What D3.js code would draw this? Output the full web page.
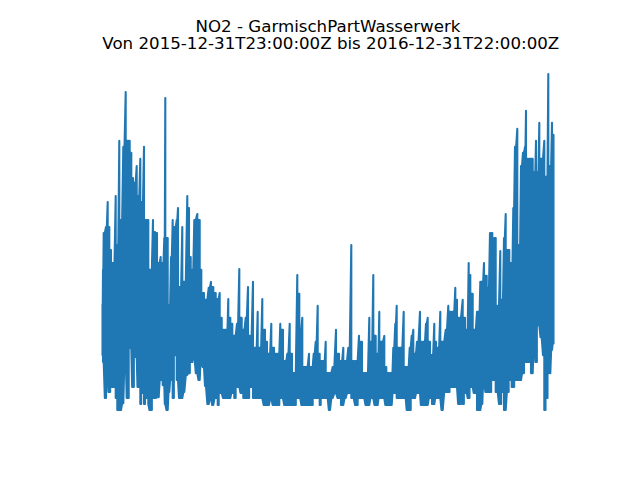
<!DOCTYPE html>
<html><head><meta charset="utf-8">
<script src="https://cdn.jsdelivr.net/npm/d3@7"></script>
<style>html,body{margin:0;padding:0;background:#fff}svg{display:block}</style>
</head><body><svg id="c" width="640" height="480"></svg>
<script>
const titleLines = ["NO2 - GarmischPartWasserwerk", "Von 2015-12-31T23:00:00Z bis 2016-12-31T22:00:00Z"];
const startTime = "2015-12-31T23:00:00Z", endTime = "2016-12-31T22:00:00Z";
const peakSlots = [0,0.5,1.2,3.5,5.2,6.8,8.5,10.8,13.2,14.8,16.8,18.5,20.8,23.2,25.2,27.2,28.8,30.5,32.2,34.2,35.8,37.8,39.5,41.5,43.5,45.8,48.2,50.5,52.5,54.5,56.2,58.2,60.2,61.8,62.8,65.2,66.8,68.5,70.2,72.5,74.2,75.5,77.5,79.8,81.8,84.8,86.5,88.2,89.8,91.8,94.8,97.2,98.8,101.5,103.5,106.2,108.5,110.8,113.2,115.2,117.2,119.2,121.8,124.2,125.8,127.8,129.8,131.8,134.5,136.8,139.2,140.8,143.2,145.5,147.8,150.5,153.2,155.2,157.5,159.8,162.5,164.5,166.5,168.8,171.5,173.5,175.8,177.8,180.5,182.8,184.8,187.2,189.5,191.8,194.8,196.8,197.8,199.8,201.8,203.8,206.5,209.2,211.2,213.2,215.2,217.2,219.2,221.2,223.2,225.2,227.5,230.2,233.5,236.5,238.5,240.8,243.2,245.8,248.8,251.2,253.8,256.5,259.5,261.8,264.2,266.8,268.8,270.8,273.2,275.2,276.8,279.2,281.8,283.8,286.5,289.2,290.8,292.8,294.2,296.5,298.5,301.2,303.2,305.2,307.2,309.2,310.8,312.5,314.5,317.5,319.2,321.5,323.5,325.2,327.5,329.5,331.8,333.5,335.5,337.8,340.2,343.2,345.8,348.2,350.8,352.8,354.5,356.8,360.2,362.5,364.2,366.2,367.8,370.2,372.2,374.5,376.5,377.8,379.8,381.5,384.2,385.5,387.5,389.8,390.8,393.2,395.2,397.8,399.5,401.5,403.2,405.5,406.8,409.2,410.8,412.5,414.8,416.8,418.5,420.5,422.5,423.5,425.5,428.5,430.2,432.2,433.5,435.2,436.8,439.2,441.8,444.2,445.8,447.8,449.5,451];
const peakValues = [35,46.7,59,61,69.3,61,53.3,49,71.3,55,89.7,63.3,87.7,106,89.7,89.7,85.7,77.3,75.7,81.3,71.3,83.7,69.3,87.7,63.3,63.3,46.7,63.3,59.3,59,49,51,49,57.3,104,57.3,35,51,63.3,61,63.3,67.3,41,61,42.7,71.3,67.3,51,46.7,63.3,65.3,63.3,46.7,39,36.7,40.7,42.7,41,39,37,39,30.7,26.7,26.7,37,30.7,28.7,24.7,28.7,47,30.7,26.7,30.7,41,24.7,42.7,20.7,32.7,20.7,37,26.7,22.7,18.7,28.7,20.7,18.7,18.7,28.7,26.7,16.3,18.7,28.7,18.7,12.3,45,38.7,26.7,30.7,14.3,14.3,18.7,14.3,18.7,22.7,34.7,18.7,16.3,16.3,22.7,12.3,12.3,14.3,26.7,18.7,16.3,20.7,16.3,20.7,55,16.3,16.3,24.7,22.7,12.3,12.3,30.7,22.7,45,24.7,18.7,32.7,22.7,24.7,14.3,12.3,12.3,20.7,28.7,34.7,20.7,20.7,32.7,14.3,14.3,20.7,24.7,26.7,18.7,22.7,32.7,22.7,22.7,28.7,30.7,22.7,18.3,28.7,22.7,20.7,32.7,22.7,26.7,34.7,32.7,32.7,40.7,36.7,30.7,36.7,30.7,26.7,49,45,38.7,26.7,32.7,32.7,42.7,42.7,49,44.7,40.7,59,59,57.3,57.3,34.7,53,36.7,57.3,65.3,53.3,53.3,49,67.3,87.7,93.7,55,81.3,85.7,87.7,99.7,83.7,83.7,83.7,79.3,89.7,79.3,95.7,83.7,89.7,77.7,112,81.3,95.7,91.7];
const troughSlots = [0,0.8,3.2,5.2,6.8,9.2,11.2,13.2,15.2,17.5,19.8,22.5,25.2,27.5,30.8,33.2,35.8,38.2,39.5,41.8,44.2,45.8,48.2,50.8,53.2,55.8,58.2,60.8,63.2,64.8,66.5,68.5,70.8,73.2,75.2,77.5,79.8,81.8,84.2,86.2,89.2,91.8,93.8,96.5,98.5,100.8,102.8,105.5,107.5,110.8,113.2,115.8,118.5,120.8,124.2,126.5,129.2,132.5,135.8,138.5,141.8,145.8,149.2,151.8,155.2,159.2,162.5,165.8,168.5,171.8,175.8,179.8,183.2,187.5,191.8,195.8,201.2,205.2,209.2,212.5,215.2,217.5,220.8,224.2,226.8,229.8,233.2,236.5,239.8,242.5,245.8,249.8,253.8,257.5,260.8,265.2,269.2,273.5,277.5,280.8,284.2,287.5,292.5,295.8,299.8,302.5,305.8,310.8,315.8,320.8,323.5,327.5,330.8,334.2,337.5,340.2,342.5,345.8,349.2,352.5,356.8,360.8,363.5,365.5,369.2,372.5,376.5,379.2,380.8,384.2,387.5,390.8,393.5,397.5,399.8,401.8,404.8,407.5,410.8,414.2,417.5,420.8,424.2,427.5,429.5,431.5,433.8,435.8,438.2,440.8,442.5,444.8,446.8,449.2,451];
const troughValues = [18.3,16,4,16,6,7.7,7.7,4,0,0,2.3,18.3,4,20.7,7.7,17.7,7.7,2,5.7,2,4,2,0,4,4,4.3,10,8.3,2,0,6,10,4,18.3,10,4,4,6,11.7,12.3,16,18.3,12.3,10,16,14.3,8,2,4,1.7,4,1.7,5.7,4,4,4,5.7,4,7.7,5.7,4,4,7.7,4,4,4,1.7,1.7,4,1.7,1.7,4,1.7,1.7,1.7,4,1.7,1.7,1.7,4,4,1.7,4,4,0,4,5.7,4,1.7,4,5.7,4,1.7,4,4,1.7,4,1.7,4,4,1.7,1.7,5.7,4,4,4,0,4,5.7,1.7,1.7,4,2,4,4,0,6,6,7.7,7.7,2,2,5.7,4,7.7,5.7,0,2,10,6,6,10,6,2,6,0,6,10,7.7,10,10,12.3,16,16,12.3,24.3,16,28.3,24.3,18.3,0,4,12.3,20,22.3];

const slotCount = 451;
const t0 = new Date(startTime), t1 = new Date(endTime);
const timeOf = s => new Date(+t0 + (t1 - t0) * s / slotCount);

const x = d3.scaleUtc().domain([t0, t1]).range([102.5, 553.5]);
const y = d3.scaleLinear().domain([0, 112]).range([410, 74]);

// Hourly swings: each read peak drops to the nearest read low; between two
// peaks the trace swings back up to the lower of them.
const lowAt = s => troughValues[d3.bisectCenter(troughSlots, s)];
const seq = [];
peakSlots.forEach((s, i) => {
  seq.push([s, peakValues[i]], [s, lowAt(s)]);
  if (i + 1 < peakSlots.length) {
    const m = (s + peakSlots[i + 1]) / 2;
    seq.push([m, lowAt(m)], [m, Math.min(peakValues[i], peakValues[i + 1])]);
  }
});

const svg = d3.select("#c");
svg.append("path")
  .datum(seq)
  .attr("fill", "none")
  .attr("stroke", "#1f77b4")
  .attr("stroke-width", 2.08)
  .attr("stroke-linejoin", "round")
  .attr("stroke-linecap", "square")
  .attr("d", d3.line().x(d => x(timeOf(d[0]))).y(d => y(d[1])));

svg.append("g").selectAll("text").data(titleLines).join("text")
  .attr("x", (d, i) => i === 0 ? 328 : 330.8)
  .attr("y", (d, i) => i === 0 ? 32 : 48.6)
  .attr("text-anchor", "middle")
  .attr("font-family", "'DejaVu Sans'")
  .attr("font-size", 16.67)
  .attr("fill", "#000")
  .text(d => d);
</script></body></html>
